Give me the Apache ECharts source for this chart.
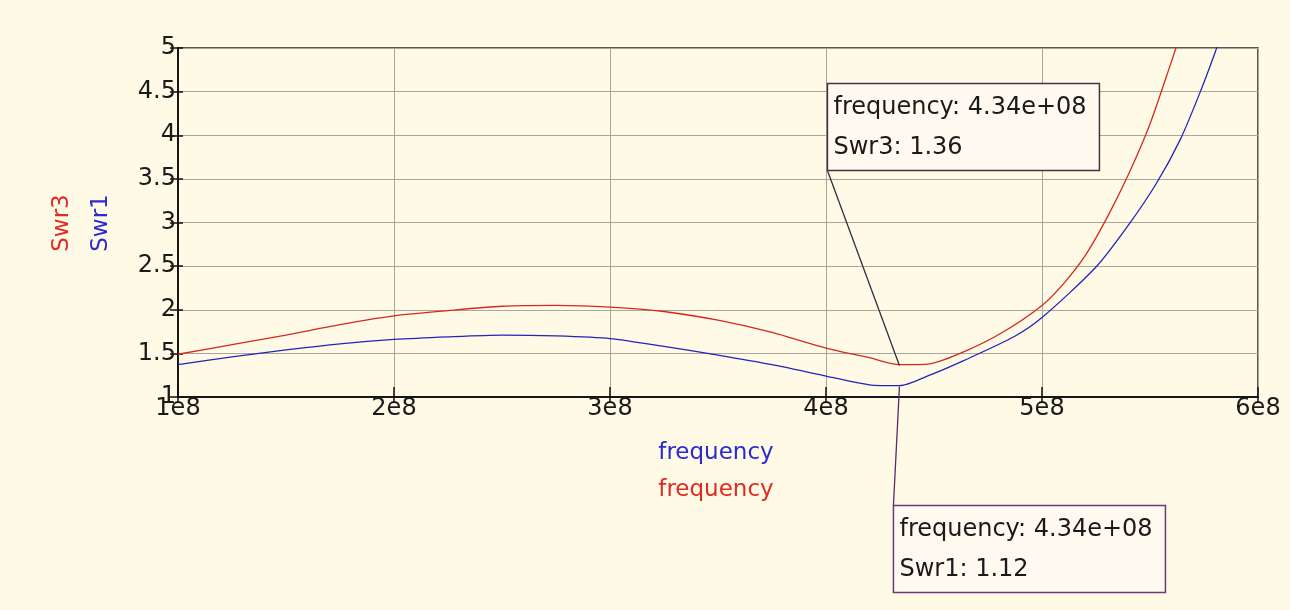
<!DOCTYPE html>
<html>
<head>
<meta charset="utf-8">
<script src="https://cdn.jsdelivr.net/npm/echarts@6/dist/echarts.min.js"></script>
<style>
  html, body { margin: 0; padding: 0; background: #fefae6; }
  #chart { width: 1290px; height: 610px; }
</style>
</head>
<body>
<div id="chart"></div>
<script>
// frequency in Hz
const freq3 = [1.0e8, 1.25e8, 1.5e8, 1.75e8, 2.0e8, 2.25e8, 2.5e8, 2.75e8, 3.0e8, 3.25e8, 3.5e8, 3.75e8, 4.0e8, 4.2e8, 4.34e8, 4.48e8, 4.64e8, 4.81e8, 5.0e8, 5.1e8, 5.2e8, 5.3e8, 5.4e8, 5.5e8, 5.6e8, 5.62e8, 5.7e8];
const swr3 =  [1.49, 1.60, 1.71, 1.83, 1.93, 1.99, 2.04, 2.05, 2.03, 1.98, 1.88, 1.74, 1.56, 1.45, 1.37, 1.38, 1.52, 1.73, 2.05, 2.30, 2.62, 3.05, 3.55, 4.13, 4.85, 5.0, 5.6];

const freq1 = [1.0e8, 1.25e8, 1.5e8, 1.75e8, 2.0e8, 2.25e8, 2.5e8, 2.75e8, 3.0e8, 3.25e8, 3.5e8, 3.75e8, 4.0e8, 4.2e8, 4.34e8, 4.48e8, 4.64e8, 4.87e8, 5.0e8, 5.25e8, 5.4e8, 5.53e8, 5.64e8, 5.73e8, 5.8e8, 5.85e8];
const swr1 =  [1.37, 1.46, 1.54, 1.61, 1.66, 1.69, 1.71, 1.70, 1.67, 1.58, 1.48, 1.37, 1.24, 1.14, 1.13, 1.25, 1.42, 1.69, 1.91, 2.49, 2.97, 3.45, 3.95, 4.48, 4.94, 5.3];

const xTicks = [1e8, 6e8, 1e8];   // min, max, step
const yTicks = [1, 5, 0.5];

const mark3 = [4.34e8, 1.36];
const mark1 = [4.34e8, 1.12];

const fontFam = '"DejaVu Sans", Verdana, sans-serif';

function pairs(xs, ys) {
  return xs.map((x, i) => [x, ys[i]]);
}

const chart = echarts.init(document.getElementById('chart'));

const baseX = {
  type: 'value',
  min: xTicks[0], max: xTicks[1], interval: xTicks[2],
  axisLine: { show: true, onZero: false, lineStyle: { color: '#111', width: 1.5 } }
};
const baseY = {
  type: 'value',
  min: yTicks[0], max: yTicks[1], interval: yTicks[2],
  axisLine: { show: true, onZero: false, lineStyle: { color: '#111', width: 1.5 } }
};

const option = {
  backgroundColor: '#fefae6',
  animation: false,
  grid: {
    left: 178, right: 32, top: 48, bottom: 213,
    show: true, borderColor: '#222', borderWidth: 1.5, backgroundColor: 'transparent'
  },
  xAxis: [
    Object.assign({}, baseX, {
      axisTick: { show: true, length: 6, lineStyle: { color: '#111', width: 1.5 } },
      axisLabel: {
        color: '#1a1a1a', fontSize: 24, fontFamily: fontFam, margin: 0,
        formatter: v => (v / 1e8) + 'e8'
      },
      splitLine: { show: true, lineStyle: { color: '#a9a59a', width: 1 } }
    }),
    Object.assign({}, baseX, {
      position: 'bottom',
      axisTick: { show: true, inside: true, length: 10, lineStyle: { color: '#111', width: 1.5 } },
      axisLabel: { show: false },
      splitLine: { show: false }
    })
  ],
  yAxis: [
    Object.assign({}, baseY, {
      axisTick: { show: true, length: 8, lineStyle: { color: '#111', width: 1.5 } },
      axisLabel: { color: '#1a1a1a', fontSize: 24, fontFamily: fontFam, margin: 2 },
      splitLine: { show: true, lineStyle: { color: '#a9a59a', width: 1 } }
    }),
    Object.assign({}, baseY, {
      position: 'left',
      axisTick: { show: true, inside: true, length: 5, lineStyle: { color: '#111', width: 1.5 } },
      axisLabel: { show: false },
      splitLine: { show: false }
    })
  ],
  series: [
    {
      name: 'Swr3', type: 'line', data: pairs(freq3, swr3),
      showSymbol: false, smooth: 0.25, clip: true,
      lineStyle: { color: '#d42a1e', width: 1.3 }
    },
    {
      name: 'Swr1', type: 'line', data: pairs(freq1, swr1),
      showSymbol: false, smooth: 0.25, clip: true,
      lineStyle: { color: '#2424b8', width: 1.3 }
    }
  ]
};

chart.setOption(option);

// axis titles + marker boxes, placed from the chart's own scale
const p3 = chart.convertToPixel({ gridIndex: 0 }, mark3);
const p1 = chart.convertToPixel({ gridIndex: 0 }, mark1);
const boxW = 272, boxH = 87;
const b3 = { x: p3[0] - 72, y: p3[1] - 282 };
const b1 = { x: p1[0] - 6, y: p1[1] + 119 };

function markerBox(b, lines, border) {
  return [
    {
      type: 'rect', shape: { x: b.x, y: b.y, width: boxW, height: boxH },
      style: { fill: '#fff9ef', stroke: border, lineWidth: 1.5 }, z: 10
    },
    {
      type: 'text', x: b.x + 6, y: b.y + 24, z: 11,
      style: { text: lines[0], fill: '#1a1a1a', font: '24px ' + fontFam, verticalAlign: 'middle' }
    },
    {
      type: 'text', x: b.x + 6, y: b.y + 64, z: 11,
      style: { text: lines[1], fill: '#1a1a1a', font: '24px ' + fontFam, verticalAlign: 'middle' }
    }
  ];
}

const fmtFreq = v => {
  const e = Math.floor(Math.log10(v));
  return (v / Math.pow(10, e)).toFixed(2) + 'e+' + String(e).padStart(2, '0');
};

chart.setOption({
  graphic: [
    { type: 'text', x: 62, y: 223, rotation: Math.PI / 2, z: 5,
      style: { text: 'Swr3', fill: '#e02a22', font: '23px ' + fontFam, align: 'center', verticalAlign: 'middle' } },
    { type: 'text', x: 101, y: 223, rotation: Math.PI / 2, z: 5,
      style: { text: 'Swr1', fill: '#2a2ad0', font: '23px ' + fontFam, align: 'center', verticalAlign: 'middle' } },
    { type: 'text', x: 716, y: 453, z: 5,
      style: { text: 'frequency', fill: '#2a2ad0', font: '23px ' + fontFam, align: 'center', verticalAlign: 'middle' } },
    { type: 'text', x: 716, y: 490, z: 5,
      style: { text: 'frequency', fill: '#e02a22', font: '23px ' + fontFam, align: 'center', verticalAlign: 'middle' } },
    { type: 'line', z: 9, shape: { x1: b3.x, y1: b3.y + boxH, x2: p3[0], y2: p3[1] },
      style: { stroke: '#3a2a40', lineWidth: 1.3 } },
    { type: 'line', z: 9, shape: { x1: p1[0], y1: p1[1], x2: b1.x, y2: b1.y },
      style: { stroke: '#5a2a6a', lineWidth: 1.3 } }
  ]
    .concat(markerBox(b3, ['frequency: ' + fmtFreq(mark3[0]), 'Swr3: ' + mark3[1]], '#4a3040'))
    .concat(markerBox(b1, ['frequency: ' + fmtFreq(mark1[0]), 'Swr1: ' + mark1[1]], '#6a3a7a'))
});
</script>
</body>
</html>
